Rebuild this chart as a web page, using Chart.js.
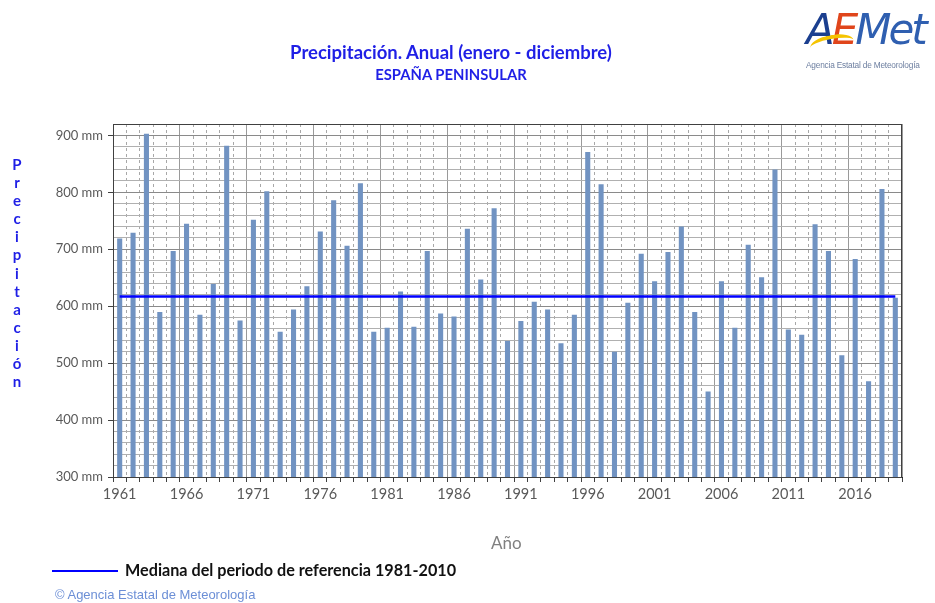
<!DOCTYPE html>
<html lang="es">
<head>
<meta charset="utf-8">
<title>Precipitación anual - España peninsular</title>
<script src="https://cdn.jsdelivr.net/npm/chart.js@4.4.0/dist/chart.umd.min.js"></script>
<style>
  html, body { margin: 0; padding: 0; background: #fff; }
  #wrap { position: relative; width: 935px; height: 603px; overflow: hidden; font-family: Lato, "Open Sans", sans-serif; }
  #grafica { position: absolute; left: 0; top: 0; }
  .abs { position: absolute; white-space: nowrap; }
  #titulo { left: 0; width: 902px; top: 41px; text-align: center; color: #1f1fe6; font-weight: bold; font-size: 18.5px; }
  #subtitulo { left: 0; width: 902px; top: 65px; text-align: center; color: #1f1fe6; font-weight: bold; font-size: 14.8px; }
  #ytitulo { left: 8px; top: 155px; width: 18px; text-align: center; color: #1f1fe6; font-weight: bold; font-size: 15px; line-height: 18.1px; }
  #xtitulo { left: 491px; top: 532px; color: #808080; font-size: 17px; }
  #leyenda { left: 52px; top: 560px; font-weight: bold; font-size: 16.2px; color: #111; }
  #leyenda span.linea { display: inline-block; width: 66px; height: 2px; background: #0000ff; vertical-align: middle; margin-right: 7px; position: relative; top: -1px; }
  #copy { left: 55px; top: 587px; color: #6c8fd6; font-family: "Liberation Sans", Arial, sans-serif; font-size: 13px; }
  #logo { left: 806px; top: 2px; width: 129px; }
  #logo .marca { position: relative; font-family: "DejaVu Sans", sans-serif; font-style: italic; font-weight: 300; font-size: 42px; letter-spacing: -3px; line-height: 56px; }
  #logo .arco { position: absolute; left: 4px; top: 33px; width: 44px; height: 14px; border-top: 4px solid #f5c400; border-radius: 50% 50% 0 0; transform: rotate(-10deg); }
  #logo .sub { font-family: "Liberation Sans", Arial, sans-serif; font-size: 8.3px; color: #6d7fa0; margin-top: 2px; letter-spacing: -0.2px; }
</style>
</head>
<body>
<div id="wrap">
  <canvas id="grafica" width="935" height="603"></canvas>
  <div class="abs" id="titulo">Precipitación. Anual (enero - diciembre)</div>
  <div class="abs" id="subtitulo">ESPAÑA PENINSULAR</div>
  <div class="abs" id="ytitulo">P<br>r<br>e<br>c<br>i<br>p<br>i<br>t<br>a<br>c<br>i<br>ó<br>n</div>
  <div class="abs" id="xtitulo">Año</div>
  <div class="abs" id="leyenda"><span class="linea"></span>Mediana del periodo de referencia 1981-2010</div>
  <div class="abs" id="copy">© Agencia Estatal de Meteorología</div>
  <div class="abs" id="logo">
    <div class="marca"><span style="color:#1b3f8f">A</span><span style="color:#e0451b">E</span><span style="color:#2f5fb0">Met</span><div class="arco"></div></div>
    <div class="sub">Agencia Estatal de Meteorología</div>
  </div>
</div>
<script>
// años 1961-2019
const anios = [
  '1961','1962','1963','1964','1965','1966','1967','1968','1969','1970',
  '1971','1972','1973','1974','1975','1976','1977','1978','1979','1980',
  '1981','1982','1983','1984','1985','1986','1987','1988','1989','1990',
  '1991','1992','1993','1994','1995','1996','1997','1998','1999','2000',
  '2001','2002','2003','2004','2005','2006','2007','2008','2009','2010',
  '2011','2012','2013','2014','2015','2016','2017','2018','2019'
];

// precipitación anual (mm)
const precipitacion = [
  719, 729, 903, 590, 697, 745, 585, 639, 882, 575,
  752, 802, 555, 594, 635, 731, 786, 706, 816, 555,
  562, 626, 564, 697, 587, 582, 736, 647, 772, 539,
  574, 608, 594, 535, 585, 871, 814, 520, 606, 692,
  644, 695, 740, 590, 450, 644, 562, 708, 651, 840,
  559, 550, 744, 697, 514, 683, 468, 806, 615
];

// mediana del periodo de referencia 1981-2010
const medianaRef = 617;

// marcas del eje y
const yMin = 300;
const yMax = 920;
const yPaso = 20;

// marco del área de la gráfica
const marcoPlugin = {
  id: 'marco',
  afterDraw(chart) {
    const a = chart.chartArea;
    const ctx = chart.ctx;
    ctx.save();
    ctx.strokeStyle = '#404040';
    ctx.lineWidth = 1;
    ctx.strokeRect(a.left + 0.5, a.top + 0.5, a.right - a.left - 1, a.bottom - a.top);
    ctx.restore();
  }
};

const canvas = document.getElementById('grafica');

new Chart(canvas, {
  data: {
    labels: anios,
    datasets: [
      {
        type: 'line',
        label: 'Mediana del periodo de referencia 1981-2010',
        data: [
          { x: anios[0], y: medianaRef },
          { x: anios[anios.length - 1], y: medianaRef }
        ],
        borderColor: '#0000ff',
        borderWidth: 2.5,
        pointRadius: 0,
        fill: false,
        order: 0
      },
      {
        type: 'bar',
        label: 'Precipitación',
        data: precipitacion,
        backgroundColor: '#7193c2',
        borderWidth: 0,
        barPercentage: 0.38,
        categoryPercentage: 1.0,
        order: 1
      }
    ]
  },
  plugins: [marcoPlugin],
  options: {
    responsive: false,
    animation: false,
    layout: { padding: { left: 0, right: 33, top: 124, bottom: 86 } },
    plugins: {
      legend: { display: false },
      tooltip: { enabled: false },
      title: { display: false }
    },
    scales: {
      x: {
        type: 'category',
        offset: true,
        afterFit: (s) => { s.height = 40; },
        grid: {
          offset: true,
          color: (c) => (c.type !== 'tick' || c.index % 5 === 0) ? '#9a9a9a' : '#a8a8a8',
          lineWidth: 1,
          tickLength: 5,
          tickColor: '#404040'
        },
        border: {
          color: '#222',
          dash: (c) => (c.type !== 'tick' || c.index % 5 === 0) ? [] : [3, 3]
        },
        ticks: {
          autoSkip: false,
          maxRotation: 0,
          padding: 4,
          color: '#595959',
          font: { family: 'Lato', size: 14.5 },
          callback: function (v, i) { return i % 5 === 0 ? anios[i] : ''; }
        }
      },
      y: {
        type: 'linear',
        min: yMin,
        max: yMax,
        afterFit: (s) => { s.width = 113; },
        grid: {
          color: (c) => (c.tick && c.tick.value % 100 === 0) ? '#8a8a8a' : '#b0b0b0',
          lineWidth: 1,
          tickLength: 5,
          tickColor: (c) => (c.tick && c.tick.value % 100 === 0) ? '#404040' : 'rgba(0,0,0,0)'
        },
        border: { color: '#404040' },
        ticks: {
          stepSize: yPaso,
          autoSkip: false,
          maxTicksLimit: 100,
          padding: 5,
          color: '#595959',
          font: { family: 'Lato', size: 13 },
          callback: (v) => (v % 100 === 0 && v < yMax) ? v + ' mm' : ''
        }
      }
    }
  }
});
</script>
</body>
</html>
